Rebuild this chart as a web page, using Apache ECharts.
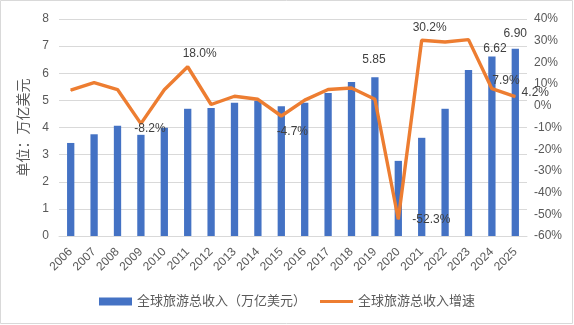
<!DOCTYPE html>
<html><head><meta charset="utf-8">
<script src="https://cdn.jsdelivr.net/npm/echarts@6/dist/echarts.min.js"></script>
<style>html,body{margin:0;padding:0;background:#fff}#c{width:574px;height:325px}</style>
</head><body><div id="c"></div>
<script>
const years = ['2006','2007','2008','2009','2010','2011','2012','2013','2014','2015','2016','2017','2018','2019','2020','2021','2022','2023','2024','2025'];
const revenue = [3.43,3.75,4.06,3.73,3.99,4.69,4.72,4.91,4.99,4.78,4.91,5.27,5.68,5.85,2.77,3.62,4.69,6.12,6.62,6.90];
const growth = [7.2,10.7,7.5,-8.2,7.4,18.0,0.6,4.4,3.0,-4.7,2.6,7.5,8.2,3.0,-52.3,30.2,29.4,30.5,7.9,4.2];
const barName = '全球旅游总收入（万亿美元）';
const lineName = '全球旅游总收入增速';
const yName = '单位：万亿美元';

const FONT = 'Liberation Sans, Noto Sans CJK SC, sans-serif';
const TXT = '#595959';
const lineLabelOffsets = {3:[9,5],5:[12,-13],9:[11,16],14:[33,0],15:[8,-13],18:[14,-8],19:[20,-4]};
const barLabelOffsets = {13:[-1,-12],18:[3,-2],19:[0,-9]};

const barData = revenue.map((v,i)=>{
  const o = barLabelOffsets[i];
  return o ? {value:v,label:{show:true,position:'top',distance:0,offset:o,formatter:p=>p.value.toFixed(2)}} : v;
});
const lineData = growth.map((v,i)=>{
  const o = lineLabelOffsets[i];
  return o ? {value:v,label:{show:true,position:'inside',offset:o,formatter:p=>p.value.toFixed(1)+'%'}} : v;
});

const chart = echarts.init(document.getElementById('c'));
chart.setOption({
  animation:false,
  textStyle:{fontFamily:FONT},
  graphic:[{type:'rect',shape:{x:0.5,y:0.5,width:572,height:323},style:{fill:'none',stroke:'#D9D9D9',lineWidth:1},silent:true}],
  grid:{left:59,right:47,top:19,bottom:89},
  legend:{bottom:12,left:'center',itemWidth:33,itemHeight:8,itemGap:14,
    textStyle:{color:TXT,fontSize:13,fontFamily:FONT},
    data:[{name:barName,icon:'rect'},{name:lineName,icon:'path://M0,0h40v3.4h-40z'}]},
  xAxis:{type:'category',data:years,
    axisLine:{lineStyle:{color:'#D9D9D9'}},axisTick:{show:false},
    axisLabel:{rotate:45,interval:0,color:TXT,fontSize:12,margin:14,fontFamily:FONT}},
  yAxis:[
    {type:'value',min:0,max:8,interval:1,name:yName,nameLocation:'middle',nameRotate:90,nameGap:24,
     nameTextStyle:{color:TXT,fontSize:14,fontFamily:FONT},
     axisLine:{show:false},axisTick:{show:false},
     axisLabel:{color:TXT,fontSize:12,margin:10,fontFamily:FONT},
     splitLine:{lineStyle:{color:'#D9D9D9'}}},
    {type:'value',min:-60,max:40,interval:10,position:'right',
     axisLine:{show:false},axisTick:{show:false},splitLine:{show:false},
     axisLabel:{color:TXT,fontSize:12,margin:7,formatter:'{value}%',fontFamily:FONT}}
  ],
  series:[
    {name:barName,type:'bar',data:barData,barWidth:7.3,itemStyle:{color:'#4472C4'},
     label:{color:'#404040',fontSize:12,fontFamily:FONT}},
    {name:lineName,type:'line',yAxisIndex:1,data:lineData,symbol:'circle',symbolSize:1,showSymbol:true,
     itemStyle:{color:'#ED7D31'},lineStyle:{color:'#ED7D31',width:3.4},
     label:{color:'#404040',fontSize:12,fontFamily:FONT}}
  ]
});
</script></body></html>
